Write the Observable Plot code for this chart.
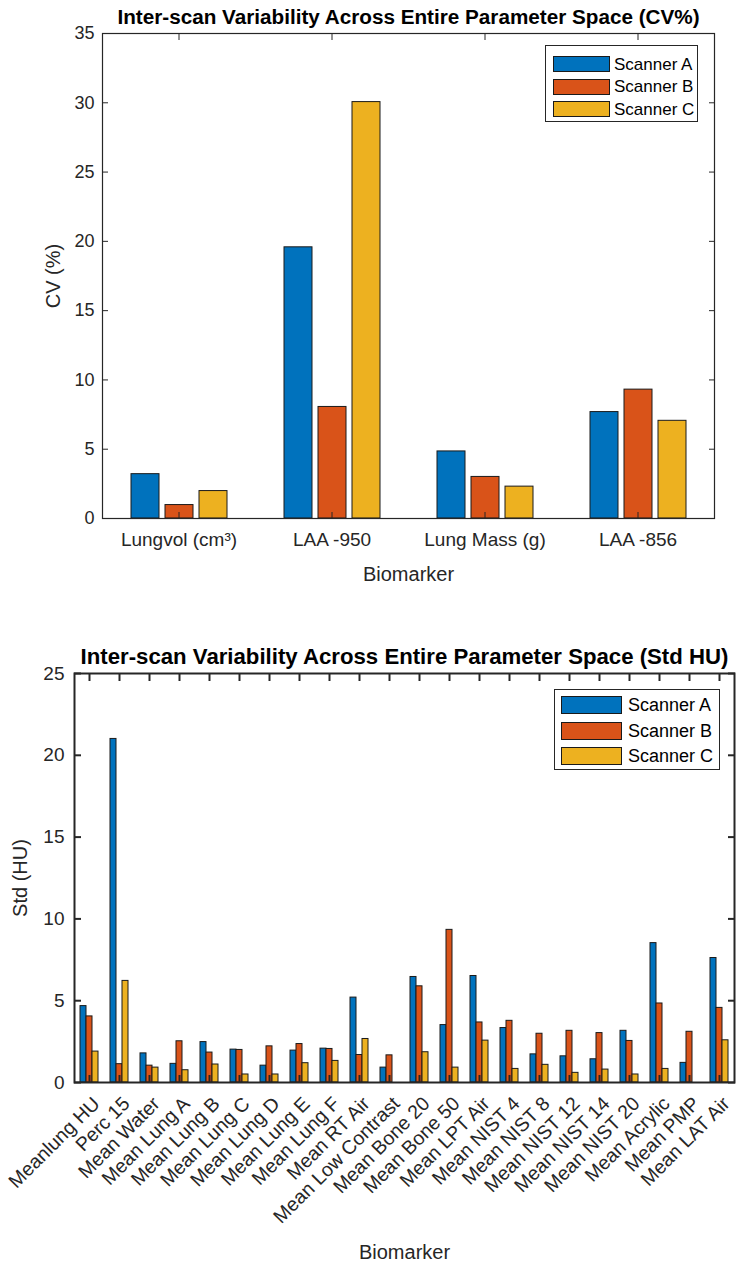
<!DOCTYPE html>
<html>
<head>
<meta charset="utf-8">
<script src="https://cdn.jsdelivr.net/npm/d3@7"></script>
<script src="https://cdn.jsdelivr.net/npm/@observablehq/plot@0.6"></script>
<style>
  html, body { margin: 0; padding: 0; background: #fff; }
  #wrap { position: relative; width: 736px; height: 1266px; font-family: "Liberation Sans", Arial, Helvetica, sans-serif; }
  .chart { position: absolute; left: 0; }
  .chart g[aria-label$="axis label"] { font-size: 20px; }
  .legend { position: absolute; background: #fff; border: 1px solid #262626; box-sizing: border-box; color: #000; }
  .legend .row { position: absolute; left: 0; display: flex; align-items: center; }
  .legend .sw { box-sizing: border-box; border: 1px solid #1a1a1a; }
</style>
</head>
<body>
<div id="wrap"></div>
<script>
// ---------- data ----------
const scanners = ["Scanner A", "Scanner B", "Scanner C"];
const scannerColors = ["#0072BD", "#D95319", "#EDB120"];

// Top chart: CV (%)
const topTitle = "Inter-scan Variability Across Entire Parameter Space (CV%)";
const topCategories = ["Lungvol (cm³)", "LAA -950", "Lung Mass (g)", "LAA -856"];
const topScannerA = [3.2, 19.57, 4.84, 7.68];
const topScannerB = [0.97, 8.05, 3.0, 9.3];
const topScannerC = [1.98, 30.05, 2.3, 7.05];
const topYTicks = [0, 5, 10, 15, 20, 25, 30, 35];

// Bottom chart: Std (HU)
const botTitle = "Inter-scan Variability Across Entire Parameter Space (Std HU)";
const botCategories = ["Meanlung HU", "Perc 15", "Mean Water", "Mean Lung A", "Mean Lung B", "Mean Lung C",
  "Mean Lung D", "Mean Lung E", "Mean Lung F", "Mean RT Air", "Mean Low Contrast", "Mean Bone 20",
  "Mean Bone 50", "Mean LPT Air", "Mean NIST 4", "Mean NIST 8", "Mean NIST 12", "Mean NIST 14",
  "Mean NIST 20", "Mean Acrylic", "Mean PMP", "Mean LAT Air"];
const botScannerA = [4.67, 21.0, 1.78, 1.14, 2.47, 2.01, 1.03, 1.95, 2.07, 5.19, 0.91, 6.45,
  3.51, 6.51, 3.33, 1.72, 1.60, 1.42, 3.16, 8.52, 1.20, 7.61];
const botScannerB = [4.04, 1.12, 1.03, 2.52, 1.83, 1.99, 2.21, 2.35, 2.05, 1.68, 1.66, 5.88,
  9.33, 3.67, 3.77, 2.98, 3.16, 3.02, 2.54, 4.83, 3.10, 4.56];
const botScannerC = [1.89, 6.21, 0.91, 0.75, 1.10, 0.49, 0.49, 1.18, 1.32, 2.66, 0, 1.85,
  0.91, 2.56, 0.83, 1.08, 0.59, 0.79, 0.49, 0.83, 0, 2.58];
const botYTicks = [0, 5, 10, 15, 20, 25];

// ---------- helpers ----------
function tidy(cats, A, B, C) {
  const series = [A, B, C];
  const out = [];
  cats.forEach((c, i) => scanners.forEach((s, j) => out.push({cat: c, scanner: s, value: series[j][i]})));
  return out;
}
const ink = "#262626";
const wrap = document.getElementById("wrap");

function makeLegend(opts) {
  const lg = document.createElement("div");
  lg.className = "legend";
  Object.assign(lg.style, {left: opts.left + "px", top: opts.top + "px", width: opts.width + "px", height: opts.height + "px"});
  scanners.forEach((s, j) => {
    const row = document.createElement("div");
    row.className = "row";
    row.style.top = (opts.rowTop + j * opts.rowStep) + "px";
    row.style.left = opts.swLeft + "px";
    row.style.height = opts.swH + "px";
    const sw = document.createElement("div");
    sw.className = "sw";
    Object.assign(sw.style, {width: opts.swW + "px", height: opts.swH + "px", background: scannerColors[j]});
    const tx = document.createElement("span");
    tx.textContent = s;
    Object.assign(tx.style, {marginLeft: opts.gap + "px", fontSize: opts.fontSize + "px", whiteSpace: "nowrap", lineHeight: "1"});
    row.appendChild(sw); row.appendChild(tx);
    lg.appendChild(row);
  });
  wrap.appendChild(lg);
}

// ---------- top chart ----------
const topData = tidy(topCategories, topScannerA, topScannerB, topScannerC);
const topPlot = Plot.plot({
  width: 736, height: 600,
  marginLeft: 101, marginRight: 22, marginTop: 33, marginBottom: 82,
  style: {fontFamily: "'Liberation Sans', Arial, sans-serif", fontSize: "17px", color: ink, background: "white", overflow: "visible"},
  fx: {domain: topCategories, padding: 0},
  x: {domain: scanners, paddingInner: 0.19, paddingOuter: 0.82, axis: null},
  y: {domain: [0, 35]},
  color: {domain: scanners, range: scannerColors},
  marks: [
    Plot.barY(topData, {fx: "cat", x: "scanner", y: "value", fill: "scanner", stroke: "#1a1a1a", strokeWidth: 1}),
    Plot.frame({facet: "super", stroke: ink, strokeWidth: 1.2}),
    Plot.axisY(topYTicks, {tickSize: -6, tickFormat: () => "", label: null, stroke: ink}),
    Plot.axisY(topYTicks, {anchor: "right", tickSize: -6, tickFormat: () => "", label: null, stroke: ink}),
    Plot.axisY(topYTicks, {tickSize: 0, tickPadding: 8, fontSize: 18, label: "CV (%)", labelArrow: "none", labelAnchor: "center", labelOffset: 57, fill: ink}),
    Plot.axisFx({anchor: "bottom", tickSize: -6, tickFormat: () => "", label: null, stroke: ink}),
    Plot.axisFx({anchor: "top", tickSize: -6, tickFormat: () => "", label: null, stroke: ink}),
    Plot.axisFx({anchor: "bottom", tickSize: 0, tickPadding: 14, fontSize: 19, label: "Biomarker", labelArrow: "none", labelAnchor: "center", labelOffset: 62, fill: ink}),
    Plot.text([topTitle], {facet: "super", frameAnchor: "top", lineAnchor: "middle", dy: -16, fontSize: 20.7, fontWeight: "bold", fill: "#000"})
  ]
});
topPlot.classList.add("chart");
topPlot.style.top = "0px";
wrap.appendChild(topPlot);

// ---------- bottom chart ----------
const botData = tidy(botCategories, botScannerA, botScannerB, botScannerC);
const botPlot = Plot.plot({
  width: 736, height: 666,
  marginLeft: 73, marginRight: 2, marginTop: 73, marginBottom: 184,
  style: {fontFamily: "'Liberation Sans', Arial, sans-serif", fontSize: "18px", color: ink, background: "white", overflow: "visible"},
  fx: {domain: botCategories, padding: 0},
  x: {domain: scanners, paddingInner: 0.07, paddingOuter: 0.88, axis: null},
  y: {domain: [0, 25]},
  color: {domain: scanners, range: scannerColors},
  marks: [
    Plot.barY(botData, {fx: "cat", x: "scanner", y: "value", fill: "scanner", stroke: "#1a1a1a", strokeWidth: 1}),
    Plot.frame({facet: "super", stroke: ink, strokeWidth: 2}),
    Plot.axisY(botYTicks, {tickSize: -7, tickFormat: () => "", label: null, stroke: ink, strokeWidth: 2}),
    Plot.axisY(botYTicks, {anchor: "right", tickSize: -7, tickFormat: () => "", label: null, stroke: ink, strokeWidth: 2}),
    Plot.axisY(botYTicks, {tickSize: 0, tickPadding: 10, fontSize: 19, label: "Std (HU)", labelArrow: "none", labelAnchor: "center", labelOffset: 62, fill: ink}),
    Plot.axisFx({anchor: "bottom", tickSize: -7, tickFormat: () => "", label: null, stroke: ink, strokeWidth: 2}),
    Plot.axisFx({anchor: "top", tickSize: -7, tickFormat: () => "", label: null, stroke: ink, strokeWidth: 2}),
    Plot.axisFx({anchor: "bottom", tickSize: 0, tickPadding: 8, tickRotate: -45, dx: 7, dy: 10, fontSize: 19.5, label: "Biomarker", labelArrow: "none", labelAnchor: "center", labelOffset: 176, fill: ink}),
    Plot.text([botTitle], {facet: "super", frameAnchor: "top", lineAnchor: "middle", dy: -17, fontSize: 22.2, fontWeight: "bold", fill: "#000"})
  ]
});
botPlot.classList.add("chart");
botPlot.style.top = "600px";
wrap.appendChild(botPlot);

// ---------- legends ----------
makeLegend({left: 545, top: 45, width: 153, height: 77, rowTop: 10, rowStep: 22.5, swLeft: 7, swW: 57, swH: 16, gap: 4, fontSize: 17});
makeLegend({left: 554, top: 689, width: 166, height: 81, rowTop: 6, rowStep: 25.5, swLeft: 6, swW: 61, swH: 18, gap: 6, fontSize: 18});
</script>
</body>
</html>
